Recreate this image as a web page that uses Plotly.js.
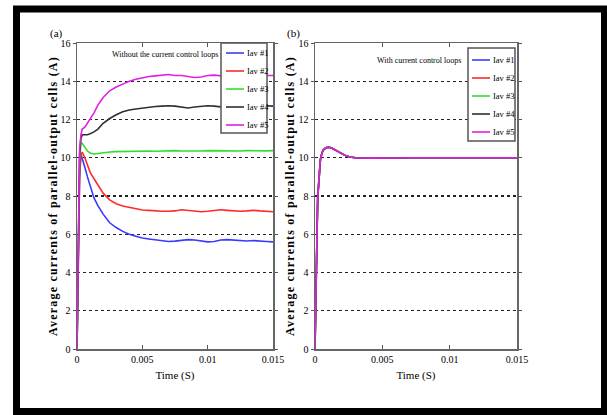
<!DOCTYPE html>
<html>
<head>
<meta charset="utf-8">
<script src="https://cdn.plot.ly/plotly-3.0.1.min.js"></script>
<style>
html, body { margin: 0; padding: 0; background: #fff; }
#chart { width: 607px; height: 415px; }
g.g-ytitle text, g.g-y2title text { letter-spacing: 1.2px; }
</style>
</head>
<body>
<div id="chart"></div>
<script>
// ---- Data (panel a: without current control loops) ----
const tLeft = [0, 0.0001, 0.0002, 0.0003, 0.0004, 0.0006, 0.0008, 0.001, 0.0013, 0.0016, 0.002, 0.0025, 0.003, 0.0035, 0.004, 0.0045, 0.005, 0.0055, 0.006, 0.0065, 0.007, 0.0075, 0.008, 0.0085, 0.009, 0.0095, 0.01, 0.0105, 0.011, 0.0115, 0.012, 0.0125, 0.013, 0.0135, 0.014, 0.0145, 0.015];
const iav1 = [0, 5.0, 9.0, 10.2, 10.0, 9.5, 9.0, 8.6, 7.9, 7.5, 7.05, 6.6, 6.35, 6.15, 6.0, 5.9, 5.8, 5.75, 5.72, 5.68, 5.62, 5.64, 5.68, 5.72, 5.7, 5.66, 5.6, 5.62, 5.7, 5.72, 5.7, 5.68, 5.65, 5.67, 5.66, 5.62, 5.6];
const iav2 = [0, 5.0, 9.2, 10.1, 10.3, 10.0, 9.6, 9.25, 8.9, 8.55, 8.15, 7.8, 7.6, 7.48, 7.4, 7.32, 7.27, 7.25, 7.22, 7.2, 7.2, 7.22, 7.28, 7.25, 7.22, 7.18, 7.2, 7.25, 7.28, 7.25, 7.22, 7.2, 7.22, 7.25, 7.22, 7.2, 7.18];
const iav3 = [0, 5.5, 9.8, 10.8, 10.75, 10.55, 10.35, 10.25, 10.2, 10.22, 10.27, 10.3, 10.32, 10.33, 10.35, 10.34, 10.36, 10.35, 10.34, 10.36, 10.35, 10.37, 10.35, 10.34, 10.36, 10.35, 10.37, 10.36, 10.35, 10.37, 10.36, 10.35, 10.37, 10.36, 10.38, 10.36, 10.37];
const iav4 = [0, 6.0, 10.2, 11.0, 11.2, 11.2, 11.2, 11.25, 11.35, 11.5, 11.8, 12.05, 12.25, 12.4, 12.5, 12.55, 12.6, 12.65, 12.68, 12.7, 12.72, 12.7, 12.65, 12.6, 12.65, 12.7, 12.72, 12.7, 12.65, 12.62, 12.6, 12.65, 12.7, 12.68, 12.7, 12.72, 12.7];
const iav5 = [0, 6.5, 10.5, 11.2, 11.5, 11.6, 11.8, 12.0, 12.35, 12.75, 13.15, 13.5, 13.7, 13.85, 14.0, 14.1, 14.18, 14.25, 14.28, 14.32, 14.35, 14.3, 14.3, 14.25, 14.2, 14.22, 14.3, 14.32, 14.28, 14.25, 14.22, 14.2, 14.25, 14.28, 14.3, 14.3, 14.3];

// ---- Data (panel b: with current control loops, all five currents coincide) ----
const tRight = [0, 0.00005, 0.0001, 0.00015, 0.0002, 0.0003, 0.0004, 0.0005, 0.0006, 0.0008, 0.001, 0.0012, 0.0015, 0.0018, 0.002, 0.0023, 0.0026, 0.003, 0.004, 0.005, 0.006, 0.007, 0.008, 0.009, 0.01, 0.011, 0.012, 0.013, 0.014, 0.015];
const iavCtrl = [0, 1.5, 3.5, 6.0, 7.9, 9.2, 9.9, 10.2, 10.4, 10.52, 10.55, 10.52, 10.4, 10.28, 10.2, 10.1, 10.04, 10.0, 9.98, 10.0, 9.99, 10.0, 10.01, 9.99, 10.0, 10.0, 9.99, 10.0, 10.0, 10.0];

// ---- Labels ----
const seriesNames = ['Iav #1', 'Iav #2', 'Iav #3', 'Iav #4', 'Iav #5'];
const seriesColors = ['#3a3aff', '#ff2a2a', '#30e030', '#303030', '#e020e0'];
const yTickVals = [0, 2, 4, 6, 8, 10, 12, 14, 16];
const xTickVals = [0, 0.005, 0.01, 0.015];
const xTickText = ['0', '0.005', '0.01', '0.015'];
const panelLabels = ['(a)', '(b)'];
const panelNotes = ['Without the current control loops', 'With current control loops'];
const xTitle = 'Time (S)';
const yTitle = 'Average currents of parallel-output cells (A)';

const W = 607, H = 415;
const px = x => x / W;
const py = y => 1 - y / H;
const serif = 'Liberation Serif, Times New Roman, serif';

const leftSeries = [iav1, iav2, iav3, iav4, iav5];
const traces = [];
leftSeries.forEach((ys, i) => {
  traces.push({ x: tLeft, y: ys, type: 'scatter', mode: 'lines', name: seriesNames[i],
    line: { color: seriesColors[i], width: 1.6 }, xaxis: 'x', yaxis: 'y', showlegend: false });
});
seriesNames.forEach((n, i) => {
  traces.push({ x: tRight, y: iavCtrl, type: 'scatter', mode: 'lines', name: n,
    line: { color: seriesColors[i], width: 1.6 }, xaxis: 'x2', yaxis: 'y2', showlegend: false });
});

const tickFont = { family: serif, size: 10, color: '#000' };
function xAx(domain, anchor) {
  return { domain: domain, anchor: anchor, range: [0, 0.015], tickvals: xTickVals, ticktext: xTickText,
    ticks: 'inside', ticklen: 4, tickcolor: '#555', mirror: 'ticks', showline: true, linecolor: '#666', linewidth: 1.5,
    showgrid: false, zeroline: false, tickfont: tickFont,
    title: { text: xTitle, font: { family: serif, size: 11, color: '#000' }, standoff: 8 } };
}
function yAx(domain, anchor, standoff) {
  return { domain: domain, anchor: anchor, range: [0, 16], tickvals: yTickVals,
    ticks: 'outside', ticklen: 3, tickcolor: '#555', mirror: 'ticks', showline: true, linecolor: '#666', linewidth: 1.5,
    showgrid: true, gridcolor: '#222', griddash: 'dot', gridwidth: 1.3, zeroline: false, tickfont: tickFont,
    title: { text: '<b>' + yTitle + '</b>', font: { family: serif, size: 12, color: '#000' }, standoff: standoff } };
}
const yDom = [py(349), py(43)];

const shapes = [
  { type: 'rect', xref: 'paper', yref: 'paper', x0: px(16.5), x1: px(604.5), y0: py(411.5), y1: py(9),
    line: { color: '#000', width: 7 }, fillcolor: 'rgba(0,0,0,0)', layer: 'above' }
];
const annotations = [];

// Legends drawn from the series names / colours
const legends = [
  { box: [221, 267, 43, 133], row0: 53, lx: [226, 244], tx: 245 },
  { box: [468, 515, 48, 141], row0: 60, lx: [472, 490], tx: 491 }
];
legends.forEach(L => {
  shapes.push({ type: 'rect', xref: 'paper', yref: 'paper', x0: px(L.box[0]), x1: px(L.box[1]),
    y0: py(L.box[3]), y1: py(L.box[2]), line: { color: '#555', width: 1.5 }, fillcolor: '#fff', layer: 'above' });
  seriesNames.forEach((n, i) => {
    const yy = L.row0 + i * 18;
    shapes.push({ type: 'line', xref: 'paper', yref: 'paper', x0: px(L.lx[0]), x1: px(L.lx[1]), y0: py(yy), y1: py(yy),
      line: { color: seriesColors[i], width: 1.6 }, layer: 'above' });
    annotations.push({ xref: 'paper', yref: 'paper', x: px(L.tx), y: py(yy), xanchor: 'left', yanchor: 'middle',
      text: n, showarrow: false, font: { family: serif, size: 8.5, color: '#000' } });
  });
});

function note(x, y, text, size) {
  annotations.push({ xref: 'paper', yref: 'paper', x: px(x), y: py(y), xanchor: 'center', yanchor: 'middle',
    text: text, showarrow: false, font: { family: serif, size: size, color: '#000' } });
}
note(56, 33, panelLabels[0], 11);
note(293, 33, panelLabels[1], 11);
note(165, 54, panelNotes[0], 8);
note(419, 61, panelNotes[1], 8);

const layout = {
  width: W, height: H, autosize: false,
  margin: { l: 0, r: 0, t: 0, b: 0 },
  paper_bgcolor: '#fff', plot_bgcolor: '#fff',
  showlegend: false,
  xaxis: xAx([px(77), px(273)], 'y'),
  yaxis: yAx(yDom, 'x', 0),
  xaxis2: xAx([px(315), px(517)], 'y2'),
  yaxis2: yAx(yDom, 'x2', 1),
  shapes: shapes,
  annotations: annotations
};

Plotly.newPlot('chart', traces, layout, { staticPlot: true, displayModeBar: false });
</script>
</body>
</html>
